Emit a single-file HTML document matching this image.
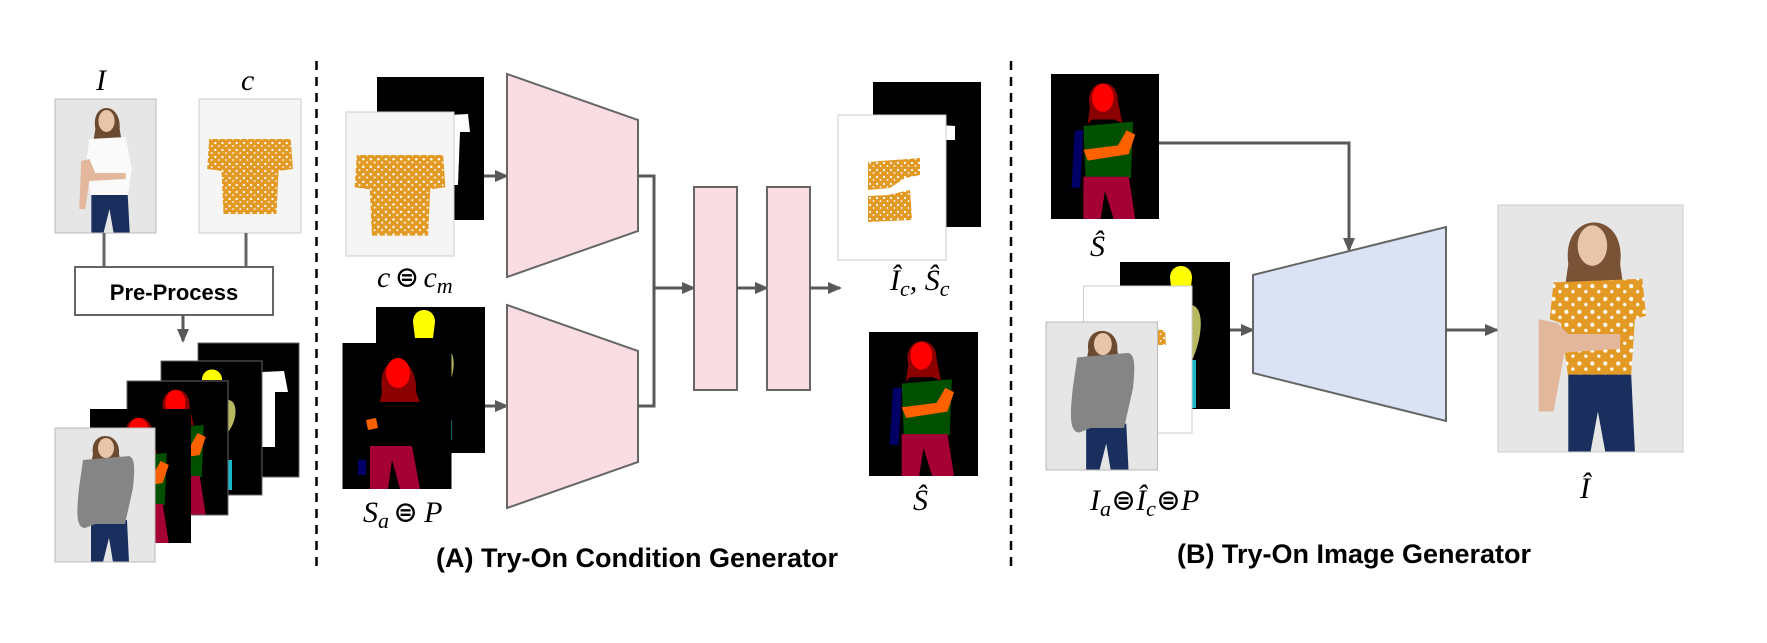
<!DOCTYPE html>
<html><head><meta charset="utf-8"><style>
html,body{margin:0;padding:0;background:#fff}
svg{display:block}
.m{font-family:"Liberation Serif","DejaVu Serif",serif;font-style:italic;font-size:30px;fill:#000}
.t{font-family:"Liberation Sans",sans-serif;font-weight:bold;font-size:27px;fill:#000}
</style></head><body>
<svg width="1767" height="643" viewBox="0 0 1767 643" xmlns="http://www.w3.org/2000/svg">
<defs>
<pattern id="dots" width="7" height="7" patternUnits="userSpaceOnUse">
<rect width="7" height="7" fill="#e39a25"/><circle cx="2" cy="2" r="1.1" fill="#fff"/><circle cx="5.5" cy="5" r="0.9" fill="#fff"/>
</pattern>
<marker id="ah" markerWidth="14" markerHeight="12" refX="12" refY="6" orient="auto" markerUnits="userSpaceOnUse">
<path d="M0,0 L14,6 L0,12 z" fill="#595959"/></marker>
<symbol id="seg" viewBox="0 0 100 134" preserveAspectRatio="none">
<rect width="100" height="134" fill="#000"/>
<path d="M36,30 C30,5 62,0 62,25 L66,45 L58,42 L38,42 L34,46 z" fill="#8b0000"/>
<ellipse cx="48" cy="22" rx="10" ry="13" fill="#f00"/>
<path d="M30,48 L76,44 L74,96 L32,98 z" fill="#005000"/>
<path d="M22,52 L30,52 L27,105 L19,105 z" fill="#000066"/>
<path d="M70,52 L78,56 L72,74 L34,80 L30,70 L62,66 z" fill="#ff6000"/>
<path d="M30,95 L72,95 L78,134 L58,134 L50,108 L46,134 L30,134 z" fill="#a50034"/>
</symbol>
<symbol id="pw" viewBox="0 0 100 134" preserveAspectRatio="none">
<rect width="100" height="134" fill="#e6e6e6"/>
<path d="M40,30 C35,2 66,2 64,30 L66,42 L38,42 z" fill="#6b4a30"/>
<ellipse cx="51" cy="22" rx="8" ry="11" fill="#e8c4a8"/>
<path d="M34,40 L70,38 L76,70 L72,98 L36,98 L30,70 z" fill="#fafafa"/>
<path d="M26,62 L34,60 L40,74 L70,74 L70,80 L34,82 L30,110 L24,110 z" fill="#e2b79c"/>
<path d="M36,96 L72,96 L74,134 L58,134 L54,110 L48,134 L36,134 z" fill="#1b2f5e"/>
</symbol>
<symbol id="po" viewBox="0 0 100 134" preserveAspectRatio="none">
<rect width="100" height="134" fill="#e6e6e6"/>
<path d="M38,32 C34,2 70,2 66,32 L68,46 L36,46 z" fill="#7a5236"/>
<ellipse cx="51" cy="22" rx="8" ry="11" fill="#e8c4a8"/>
<path d="M30,42 L78,40 L80,60 L74,62 L72,92 L38,94 L34,64 L28,62 z" fill="url(#dots)"/>
<path d="M22,62 L32,64 L38,70 L66,70 L66,78 L36,80 L30,112 L22,112 z" fill="#e2b79c"/>
<path d="M38,92 L72,92 L74,134 L58,134 L54,112 L50,134 L38,134 z" fill="#1b2f5e"/>
</symbol>
<symbol id="pa" viewBox="0 0 100 134" preserveAspectRatio="none">
<rect width="100" height="134" fill="#e6e6e6"/>
<path d="M38,26 C34,2 66,2 64,26 L66,36 L36,36 z" fill="#6b4a30"/>
<ellipse cx="51" cy="20" rx="8" ry="10" fill="#e8c4a8"/>
<path d="M36,92 L72,92 L74,134 L58,134 L54,110 L48,134 L36,134 z" fill="#1b2f5e"/>
<path d="M28,32 L74,28 C80,30 80,40 78,60 L70,96 L40,96 L30,100 C20,100 22,80 24,60 z" fill="#858585"/>
</symbol>
<symbol id="shirt" viewBox="0 0 100 134" preserveAspectRatio="none">
<rect width="100" height="134" fill="#f5f5f5"/>
<path d="M10,40 L90,40 L92,70 L78,72 L76,115 L24,115 L22,72 L8,70 z" fill="url(#dots)"/>
</symbol>
</defs>

<text class="m" x="96" y="90">I</text>
<text class="m" x="241" y="90">c</text>
<use href="#pw" x="55" y="99" width="101" height="134"/>
<rect x="55" y="99" width="101" height="134" fill="none" stroke="#bbb"/>
<use href="#shirt" x="199" y="99" width="102" height="134"/>
<rect x="199" y="99" width="102" height="134" fill="none" stroke="#ccc"/>
<line x1="104" y1="233" x2="104" y2="267" stroke="#666" stroke-width="3"/>
<line x1="246" y1="233" x2="246" y2="267" stroke="#666" stroke-width="3"/>
<rect x="75" y="267" width="198" height="48" fill="#fff" stroke="#666" stroke-width="2"/>
<text class="t" x="174" y="300" text-anchor="middle" style="font-size:22px">Pre-Process</text>
<line x1="183" y1="315" x2="183" y2="341" stroke="#595959" stroke-width="3" marker-end="url(#ah)"/>

<rect x="198" y="343" width="101" height="134" fill="#000" stroke="#666"/>
<path d="M262,372 L284,371 L288,392 L275,392 L275,447 L262,447 z" fill="#fff"/>
<rect x="161" y="361" width="101" height="134" fill="#000" stroke="#666"/>
<path d="M202,380 C202,366 222,366 222,380 z" fill="#ff0"/>
<path d="M228,400 C238,400 238,420 228,432 z" fill="#b8b860"/>
<rect x="227" y="460" width="5" height="30" fill="#17b8c8"/>
<use href="#seg" x="127" y="381" width="101" height="134"/>
<rect x="127" y="381" width="101" height="134" fill="none" stroke="#666"/>
<use href="#seg" x="90" y="409" width="101" height="134"/>
<use href="#pa" x="55" y="428" width="100" height="134"/>
<rect x="55" y="428" width="100" height="134" fill="none" stroke="#bbb"/>

<line x1="316.5" y1="61" x2="316.5" y2="566" stroke="#000" stroke-width="2.5" stroke-dasharray="9,7"/>

<rect x="377" y="77" width="107" height="143" fill="#000"/>
<path d="M430,116 L468,114 L470,132 L460,132 L458,185 L430,185 z" fill="#fff"/>
<use href="#shirt" x="346" y="112" width="108" height="144"/>
<rect x="346" y="112" width="108" height="144" fill="none" stroke="#ccc"/>
<text class="m" x="377" y="287">c<tspan font-style="normal" dx="4">⊜</tspan><tspan dx="4">c</tspan><tspan font-size="22" dy="6">m</tspan></text>
<line x1="484" y1="176" x2="507" y2="176" stroke="#595959" stroke-width="3" marker-end="url(#ah)"/>

<rect x="376" y="307" width="109" height="146" fill="#000"/>
<path d="M413,322 C413,306 435,306 435,322 L433,338 L415,338 z" fill="#ff0"/>
<path d="M448,350 C456,352 455,375 448,385 z" fill="#b8b860"/>
<rect x="448" y="420" width="4" height="20" fill="#17b8c8"/>
<rect x="342.5" y="343" width="109" height="146" fill="#000"/>
<path d="M382,392 C376,350 418,350 416,392 L420,402 L380,402 z" fill="#8b0000"/>
<ellipse cx="398" cy="373" rx="12" ry="15" fill="#f00"/>
<path d="M366,420 L376,418 L378,428 L368,430 z" fill="#ff6000"/>
<path d="M358,460 L366,460 L366,475 L358,475 z" fill="#000066"/>
<path d="M370,446 L412,446 L420,489 L400,489 L392,460 L388,489 L370,489 z" fill="#a50034"/>
<text class="m" x="363" y="522">S<tspan font-size="22" dy="6">a</tspan><tspan font-style="normal" dy="-6" dx="4">⊜</tspan><tspan dx="6">P</tspan></text>
<line x1="485" y1="406" x2="507" y2="406" stroke="#595959" stroke-width="3" marker-end="url(#ah)"/>

<polygon points="507,74 638,120 638,231 507,277" fill="#fadde2" stroke="#666" stroke-width="2"/>
<polygon points="507,305 638,351 638,462 507,508" fill="#fadde2" stroke="#666" stroke-width="2"/>
<polyline points="638,176 654,176 654,406 638,406" fill="none" stroke="#595959" stroke-width="3"/>
<line x1="654" y1="288" x2="694" y2="288" stroke="#595959" stroke-width="3" marker-end="url(#ah)"/>
<rect x="694" y="187" width="43" height="203" fill="#fadde2" stroke="#666" stroke-width="2"/>
<line x1="737" y1="288" x2="767" y2="288" stroke="#595959" stroke-width="3" marker-end="url(#ah)"/>
<rect x="767" y="187" width="43" height="203" fill="#fadde2" stroke="#666" stroke-width="2"/>
<line x1="810" y1="288" x2="840" y2="288" stroke="#595959" stroke-width="3" marker-end="url(#ah)"/>

<rect x="873" y="82" width="108" height="145" fill="#000"/>
<path d="M940,125 L955,126 L955,140 L945,140 L945,220 L940,220 z" fill="#fff"/>
<rect x="838" y="115" width="108" height="145" fill="#fff" stroke="#ccc"/>
<path d="M868,162 L920,158 L920,175 L905,178 L890,188 L868,190 z" fill="url(#dots)"/>
<path d="M868,196 L888,195 L910,190 L912,220 L868,222 z" fill="url(#dots)"/>
<text class="m" x="890" y="290">Î<tspan font-size="22" dy="6">c</tspan><tspan dy="-6">, Ŝ</tspan><tspan font-size="22" dy="6">c</tspan></text>
<use href="#seg" x="869" y="332" width="109" height="144"/>
<text class="m" x="913" y="510">Ŝ</text>
<text class="t" x="637" y="567" text-anchor="middle">(A) Try-On Condition Generator</text>

<line x1="1011" y1="61" x2="1011" y2="566" stroke="#000" stroke-width="2.5" stroke-dasharray="9,7"/>

<use href="#seg" x="1051" y="74" width="108" height="145"/>
<text class="m" x="1090" y="256">Ŝ</text>
<polyline points="1159,143 1349,143 1349,250" fill="none" stroke="#595959" stroke-width="3" marker-end="url(#ah)"/>

<rect x="1120" y="262" width="110" height="147" fill="#000"/>
<path d="M1170,278 C1170,262 1192,262 1192,278 L1190,295 L1172,295 z" fill="#ff0"/>
<path d="M1190,305 C1206,305 1202,340 1192,360 z" fill="#b8b860"/>
<path d="M1188,360 L1196,360 L1196,408 L1188,408 z" fill="#17b8c8"/>
<rect x="1083.5" y="286" width="108.5" height="147" fill="#fff" stroke="#ccc"/>
<path d="M1155,330 L1165,330 L1166,345 L1158,345 z" fill="url(#dots)"/>
<use href="#pa" x="1046" y="322" width="111.5" height="148"/>
<rect x="1046" y="322" width="111.5" height="148" fill="none" stroke="#bbb"/>
<text class="m" x="1090" y="510">I<tspan font-size="22" dy="6">a</tspan><tspan font-style="normal" dy="-6">⊜</tspan>Î<tspan font-size="22" dy="6">c</tspan><tspan font-style="normal" dy="-6">⊜</tspan>P</text>
<line x1="1230" y1="330" x2="1253" y2="330" stroke="#595959" stroke-width="3" marker-end="url(#ah)"/>
<polygon points="1253,275 1446,227 1446,421 1253,373" fill="#dae3f3" stroke="#666" stroke-width="2"/>
<line x1="1446" y1="330" x2="1497" y2="330" stroke="#595959" stroke-width="3" marker-end="url(#ah)"/>
<use href="#po" x="1498" y="205" width="185" height="247"/>
<rect x="1498" y="205" width="185" height="247" fill="none" stroke="#ccc"/>
<text class="m" x="1580" y="498">Î</text>
<text class="t" x="1354" y="563" text-anchor="middle">(B) Try-On Image Generator</text>
</svg>
</body></html>
